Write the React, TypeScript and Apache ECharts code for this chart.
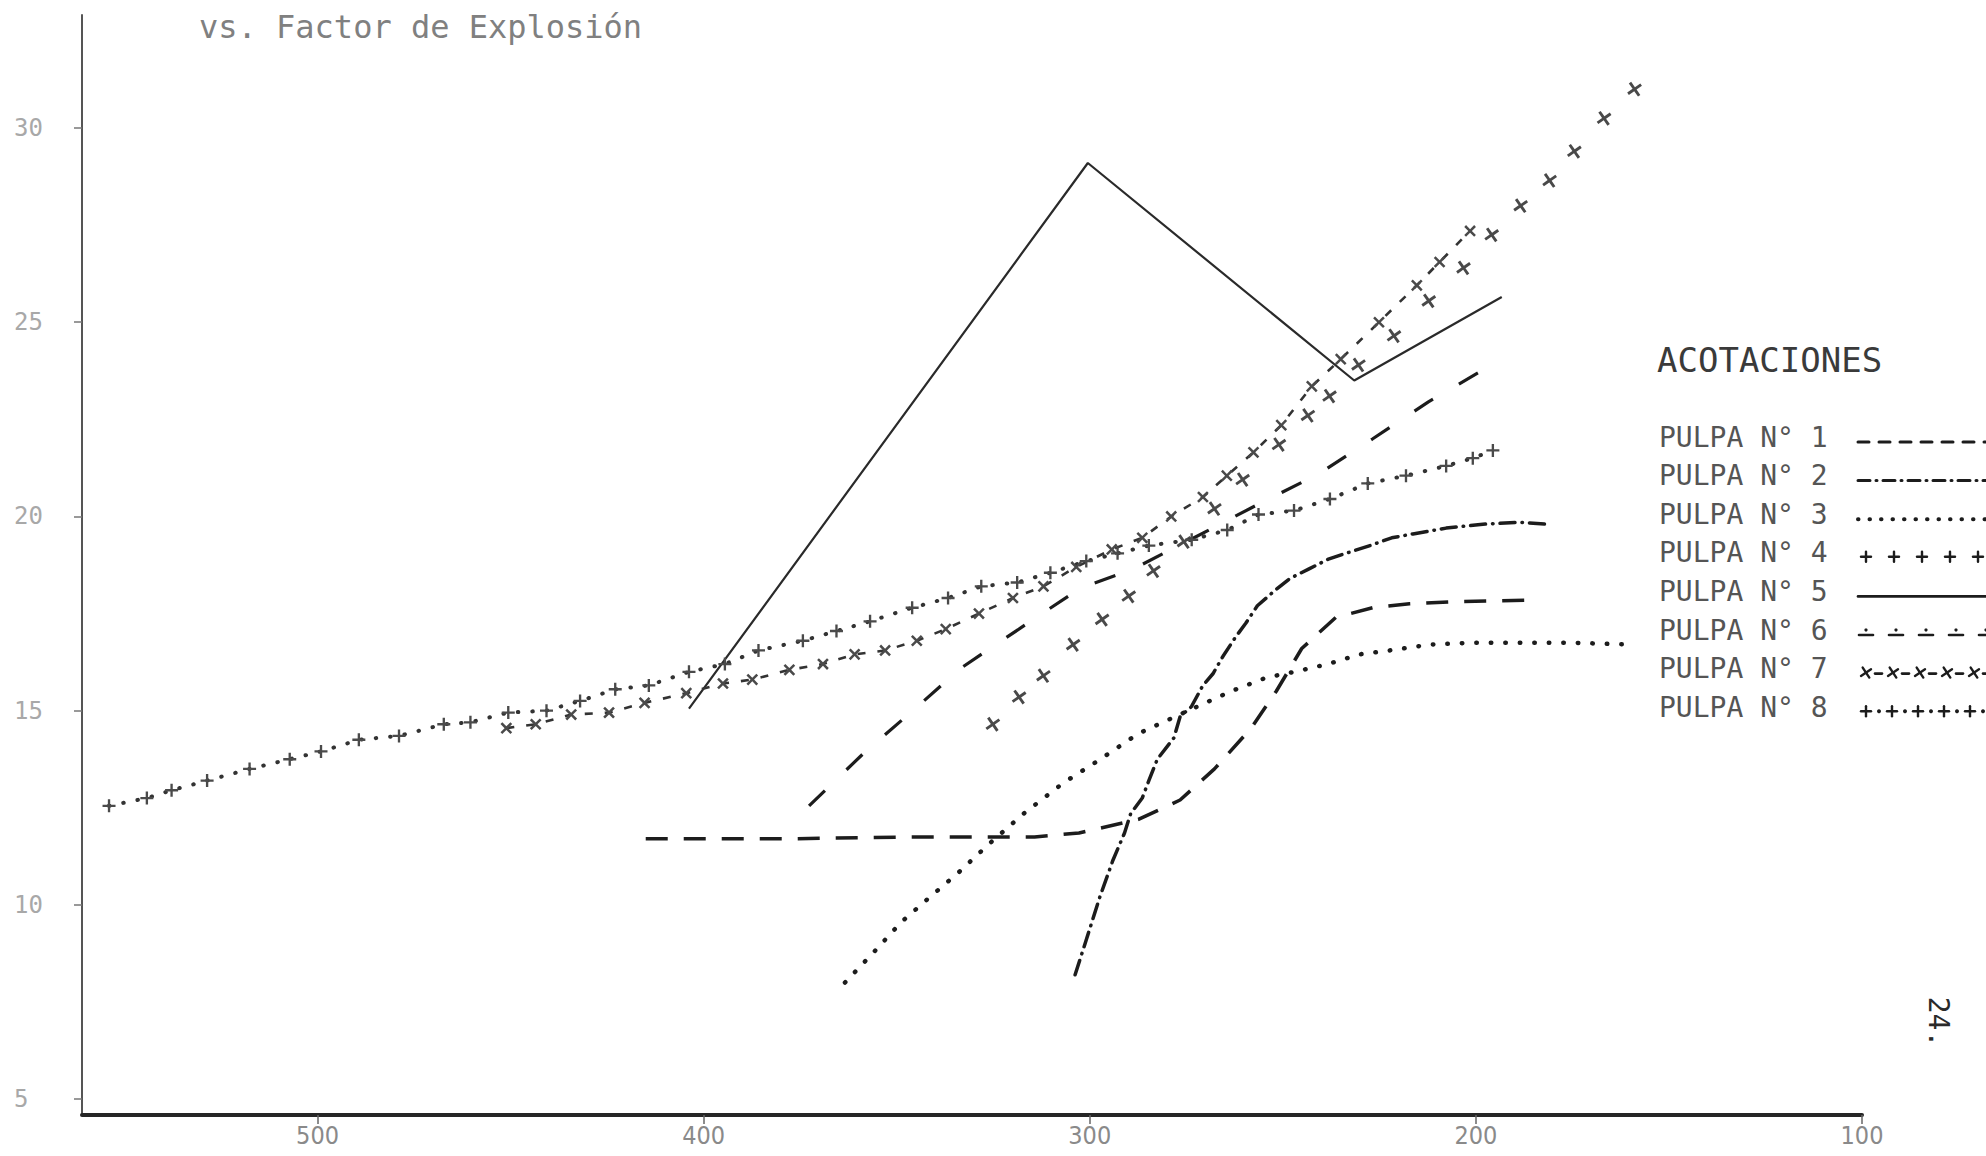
import { useEffect, useRef } from 'react';
import * as echarts from 'echarts';

// Axis ticks
const xTicks = [100, 200, 300, 400, 500];
const yTicks = [5, 10, 15, 20, 25, 30];

const seriesNames = [
  'PULPA N° 1',
  'PULPA N° 2',
  'PULPA N° 3',
  'PULPA N° 4',
  'PULPA N° 5',
  'PULPA N° 6',
  'PULPA N° 7',
  'PULPA N° 8',
];

// [factor de explosión, valor]
const pulpa1: [number, number][] = [
  [415, 11.7], [378.9, 11.7], [346.1, 11.75], [314.3, 11.75], [302.8, 11.85],
  [287.4, 12.2], [276.6, 12.7], [267.7, 13.5], [258.2, 14.55], [251.7, 15.5],
  [245.1, 16.6], [236.3, 17.4], [226.7, 17.65], [217.2, 17.75], [207.1, 17.8],
  [184.4, 17.85],
];

const pulpa2: [number, number][] = [
  [303.8, 8.2], [300.9, 9.1], [297.4, 10.2], [294.0, 11.15], [291.0, 11.85],
  [289.4, 12.35], [286.4, 12.75], [284.7, 13.2], [282.5, 13.75], [278.2, 14.3],
  [276.6, 14.85], [273.7, 15.1], [270.7, 15.65], [268.1, 15.95], [265.5, 16.4],
  [262.2, 16.9], [259.6, 17.25], [256.6, 17.7], [252.0, 18.1], [248.2, 18.4],
  [243.2, 18.65], [238.2, 18.9], [233.7, 19.05], [227.4, 19.25], [221.8, 19.45],
  [216.3, 19.55], [207.7, 19.7], [198.2, 19.8], [188.7, 19.85], [181.5, 19.8],
];

const pulpa3: [number, number][] = [
  [363.4, 8.0], [355.3, 8.85], [348.9, 9.55], [341.4, 10.2], [333.8, 10.85],
  [326.3, 11.55], [317.1, 12.35], [306.7, 13.15], [298.0, 13.7], [287.6, 14.4],
  [275.6, 14.95], [263.4, 15.5], [254.3, 15.85], [247.0, 16.0], [238.3, 16.2],
  [230.1, 16.45], [222.4, 16.55], [212.0, 16.7], [200.9, 16.75], [189.1, 16.75],
  [175.6, 16.75], [159.4, 16.7],
];

const pulpa4: [number, number][] = [
  [325.1, 14.65], [318.3, 15.35], [312.0, 15.9], [304.3, 16.7], [296.8, 17.35],
  [289.9, 17.95], [283.5, 18.6], [275.6, 19.35], [267.7, 20.2], [260.4, 20.95],
  [251.0, 21.85], [243.5, 22.6], [237.9, 23.1], [230.4, 23.9], [221.2, 24.65],
  [212.2, 25.55], [203.2, 26.4], [195.9, 27.25], [188.4, 28.0], [180.9, 28.65],
  [174.5, 29.4], [166.8, 30.25], [158.9, 31.0],
];

const pulpa5: [number, number][] = [
  [403.8, 15.05], [300.5, 29.1], [231.5, 23.5], [193.3, 25.65],
];

const pulpa6: [number, number][] = [
  [372.7, 12.55], [358.6, 13.9], [346.4, 14.95], [333.3, 16.1], [317.6, 17.15],
  [302.5, 18.15], [288.7, 18.65], [274.0, 19.4], [257.6, 20.25], [240.6, 21.1],
  [226.7, 22.0], [212.3, 22.95], [198.5, 23.75],
];

const pulpa7: [number, number][] = [
  [451.1, 14.55], [443.5, 14.65], [434.3, 14.9], [424.5, 14.95], [415.3, 15.2],
  [404.5, 15.45], [395.0, 15.7], [387.4, 15.8], [377.8, 16.05], [369.1, 16.2],
  [360.9, 16.45], [353.0, 16.55], [344.8, 16.8], [337.3, 17.1], [328.7, 17.5],
  [319.9, 17.9], [312.0, 18.2], [303.5, 18.7], [294.3, 19.15], [286.4, 19.45],
  [278.9, 20.0], [270.7, 20.5], [264.5, 21.05], [257.6, 21.65], [250.4, 22.35],
  [242.5, 23.35], [235.0, 24.05], [225.1, 25.0], [215.3, 25.95], [209.4, 26.55],
  [201.5, 27.35],
];

const pulpa8: [number, number][] = [
  [554.0, 12.55], [544.2, 12.75], [537.8, 12.95], [528.6, 13.2], [517.6, 13.5],
  [507.2, 13.75], [499.1, 13.95], [489.3, 14.25], [478.9, 14.35], [467.3, 14.65],
  [460.4, 14.7], [450.6, 14.95], [440.7, 15.0], [432.0, 15.25], [422.9, 15.55],
  [414.2, 15.65], [403.8, 16.0], [394.5, 16.2], [385.8, 16.55], [374.3, 16.8],
  [365.6, 17.05], [356.9, 17.3], [346.0, 17.65], [336.7, 17.9], [328.1, 18.2],
  [318.8, 18.3], [310.2, 18.55], [300.9, 18.85], [292.8, 19.05], [284.7, 19.25],
  [273.6, 19.4], [264.4, 19.65], [256.3, 20.05], [247.1, 20.15], [237.8, 20.45],
  [228.0, 20.85], [218.1, 21.05], [207.7, 21.3], [200.8, 21.5], [195.6, 21.7],
];

const INK = '#1c1c1c';
const SOFT = '#4a4a4a';
const LETTER = '"DejaVu Sans Mono", "Liberation Mono", monospace';
const NARROW = '"Liberation Sans Narrow", "DejaVu Sans Condensed", "Liberation Sans", sans-serif';
const PLUS = 'path://M4.1,0H5.9V4.1H10V5.9H5.9V10H4.1V5.9H0V4.1H4.1Z';

// Key at the right: labels plus hand-drawn style samples
function keyGraphics() {
  const els: any[] = [];
  const textX = 1659;
  const sx = 1858;
  const ex = 1992;
  const rowY = (i: number) => 437 + i * 38.6;
  const seg = (x1: number, y1: number, x2: number, y2: number, w = 3, dash?: number[]) => ({
    type: 'line',
    silent: true,
    shape: { x1, y1, x2, y2 },
    style: { stroke: INK, lineWidth: w, lineDash: dash, lineCap: 'round' },
  });
  const dot = (cx: number, cy: number, r = 2) => ({
    type: 'circle', silent: true, shape: { cx, cy, r }, style: { fill: INK },
  });
  const plus = (cx: number, cy: number, s = 5, rot = 0) => {
    const c = Math.cos(rot), n = Math.sin(rot);
    return [
      seg(cx - s * c, cy - s * n, cx + s * c, cy + s * n, 2.4),
      seg(cx + s * n, cy - s * c, cx - s * n, cy + s * c, 2.4),
    ];
  };

  els.push({
    type: 'text', x: 1657, y: 360, silent: true,
    style: { text: 'ACOTACIONES', fontSize: 34, fontFamily: LETTER, fill: '#3a3a3a', verticalAlign: 'middle' },
  });

  seriesNames.forEach((name, i) => {
    els.push({
      type: 'text', x: textX, y: rowY(i), silent: true,
      style: { text: name, fontSize: 28, fontFamily: LETTER, fill: '#555', verticalAlign: 'middle' },
    });
  });

  const y = (i: number) => rowY(i) + 5;
  els.push(seg(sx, y(0), ex, y(0), 3, [11, 10]));
  els.push(seg(sx, y(1), ex, y(1), 3, [12, 6, 1, 6]));
  els.push(seg(sx, y(2), ex, y(2), 4, [0.5, 11]));
  for (let k = 0; k < 5; k++) els.push(...plus(1866 + k * 28, y(3) - 1, 5));
  els.push(seg(sx, y(4), ex, y(4), 2.6));
  for (let k = 0; k < 5; k++) {
    const cx = 1866 + k * 30;
    els.push(seg(cx - 7, y(5), cx + 7, y(5), 2.6));
    els.push(dot(cx, y(5) - 5, 1.6));
  }
  for (let k = 0; k < 5; k++) {
    const cx = 1866 + k * 27;
    els.push(...plus(cx, y(6) - 1, 6, Math.PI / 4 + 0.2));
    els.push(seg(cx + 9, y(6), cx + 16, y(6), 2.6));
  }
  for (let k = 0; k < 5; k++) {
    const cx = 1866 + k * 26;
    els.push(...plus(cx, y(7) - 1, 5));
    els.push(dot(cx + 13, y(7) - 1, 2));
  }

  els.push({
    type: 'text', x: 1938, y: 1022, rotation: -Math.PI / 2, silent: true,
    style: { text: '24.', fontSize: 28, fontFamily: LETTER, fill: '#2a2a2a', align: 'center', verticalAlign: 'middle' },
  });

  els.push({
    type: 'text', x: 199, y: 27, silent: true,
    style: { text: 'vs. Factor de Explosión', fontSize: 32, fontFamily: LETTER, fill: '#808080', verticalAlign: 'middle' },
  });

  return els;
}

function buildOption(): any {
  const lineSeries = (name: string, data: [number, number][], lineStyle: any, extra: any = {}) => ({
    name,
    type: 'line',
    data,
    symbol: 'none',
    silent: true,
    clip: false,
    itemStyle: { color: INK },
    lineStyle: { color: INK, ...lineStyle },
    ...extra,
  });

  return {
    animation: false,
    backgroundColor: '#ffffff',
    grid: { left: 82, right: 124, top: 15, bottom: 41, containLabel: false },
    xAxis: {
      type: 'value',
      inverse: true,
      min: 100,
      max: 561,
      splitLine: { show: false },
      axisLine: { show: true, lineStyle: { color: '#262626', width: 4 } },
      axisTick: { show: true, customValues: xTicks, length: 9, lineStyle: { color: '#666', width: 1.5 } },
      axisLabel: {
        customValues: xTicks,
        fontSize: 25,
        fontFamily: NARROW,
        color: '#8a8a8a',
        margin: 8,
      },
    },
    yAxis: {
      type: 'value',
      min: 4.59,
      max: 32.91,
      splitLine: { show: false },
      axisLine: { show: true, lineStyle: { color: '#555', width: 2 } },
      axisTick: { show: true, customValues: yTicks, length: 8, lineStyle: { color: '#777', width: 1.5 } },
      axisLabel: {
        customValues: yTicks,
        fontSize: 24,
        fontFamily: LETTER,
        color: '#a8a8a8',
        align: 'left',
        margin: 68,
      },
    },
    graphic: keyGraphics(),
    series: [
      lineSeries(seriesNames[0], pulpa1, { width: 3.5, type: [22, 16] }),
      lineSeries(seriesNames[1], pulpa2, { width: 3.5, type: [15, 7, 0.5, 7], cap: 'round' }),
      lineSeries(seriesNames[2], pulpa3, { width: 4.5, type: [0.5, 14], cap: 'round' }),
      {
        name: seriesNames[3],
        type: 'scatter',
        data: pulpa4,
        symbol: PLUS,
        symbolSize: 16,
        symbolRotate: 35,
        silent: true,
        itemStyle: { color: INK },
      },
      lineSeries(seriesNames[4], pulpa5, { width: 2.2, type: 'solid', color: '#2a2a2a' }),
      lineSeries(seriesNames[5], pulpa6, { width: 3.2, type: [22, 30] }),
      lineSeries(seriesNames[6], pulpa7, { width: 2.6, type: [8, 12], color: '#333' }, {
        symbol: PLUS, symbolSize: 14, symbolRotate: 45, showSymbol: true, showAllSymbol: true,
        itemStyle: { color: SOFT },
      }),
      lineSeries(seriesNames[7], pulpa8, { width: 4, type: [0.5, 14], cap: 'round', color: '#333' }, {
        symbol: PLUS, symbolSize: 13, showSymbol: true, showAllSymbol: true,
        itemStyle: { color: SOFT },
      }),
    ],
  };
}

export default function App() {
  const ref = useRef<HTMLDivElement>(null);
  useEffect(() => {
    if (!ref.current) return;
    const chart = echarts.init(ref.current, null, { renderer: 'svg' });
    chart.setOption(buildOption());
    return () => chart.dispose();
  }, []);
  return (
    <div
      ref={ref}
      style={{ position: 'absolute', left: 0, top: 0, width: 1986, height: 1156, background: '#fff' }}
    />
  );
}
